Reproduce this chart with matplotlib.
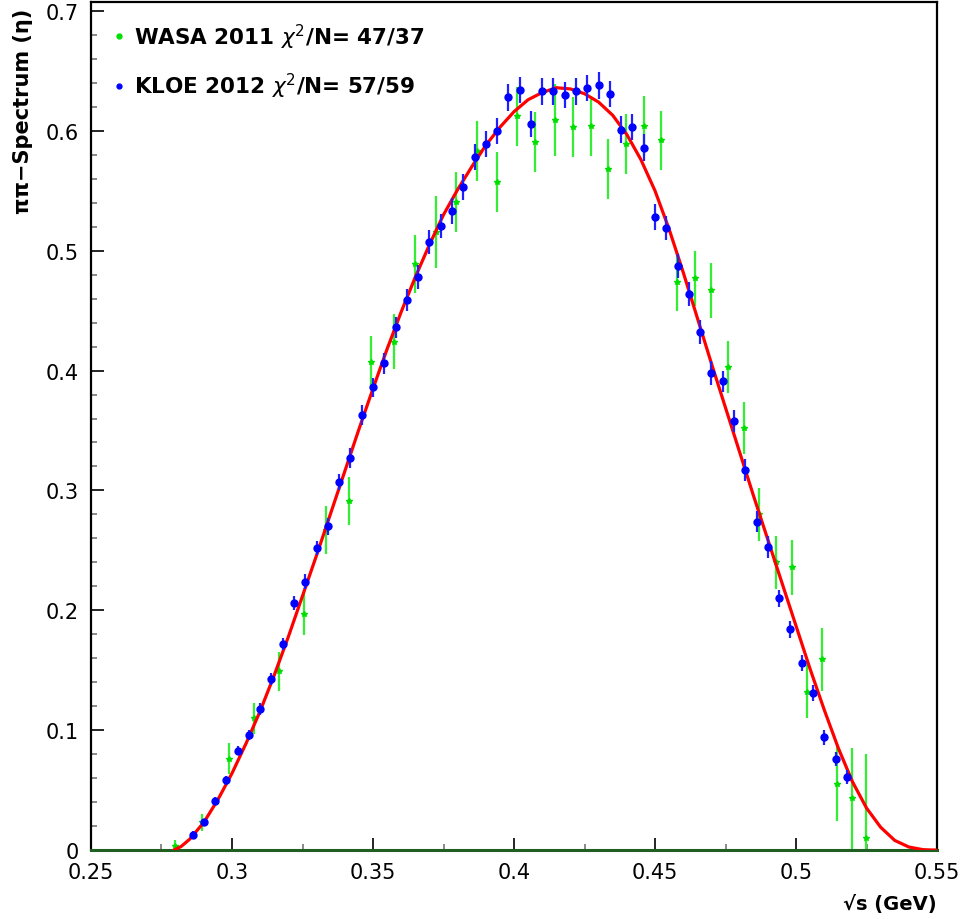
import matplotlib
matplotlib.use('Agg')
import matplotlib.pyplot as plt
from matplotlib.lines import Line2D
from matplotlib.ticker import MultipleLocator, FormatStrFormatter

# KLOE 2012 points
kloe_x = [0.286, 0.290, 0.294, 0.298, 0.302, 0.306, 0.310, 0.314, 0.318, 0.322,
          0.326, 0.330, 0.334, 0.338, 0.342, 0.346, 0.350, 0.354, 0.358, 0.362,
          0.366, 0.370, 0.374, 0.378, 0.382, 0.386, 0.390, 0.394, 0.398, 0.402,
          0.406, 0.410, 0.414, 0.418, 0.422, 0.426, 0.430, 0.434, 0.438, 0.442,
          0.446, 0.450, 0.454, 0.458, 0.462, 0.466, 0.470, 0.474, 0.478, 0.482,
          0.486, 0.490, 0.494, 0.498, 0.502, 0.506, 0.510, 0.514, 0.518]
kloe_y = [0.0125, 0.023, 0.041, 0.058, 0.083, 0.096, 0.118, 0.143, 0.172, 0.206,
          0.224, 0.252, 0.270, 0.307, 0.327, 0.363, 0.386, 0.406, 0.436, 0.459,
          0.478, 0.507, 0.521, 0.533, 0.553, 0.578, 0.589, 0.600, 0.628, 0.634,
          0.606, 0.633, 0.633, 0.630, 0.633, 0.636, 0.638, 0.631, 0.601, 0.603,
          0.586, 0.528, 0.519, 0.487, 0.464, 0.432, 0.398, 0.391, 0.358, 0.317,
          0.274, 0.253, 0.210, 0.184, 0.156, 0.131, 0.094, 0.076, 0.061]
kloe_err = [0.003, 0.003, 0.003, 0.004, 0.004, 0.004, 0.005, 0.005, 0.005, 0.006,
            0.006, 0.006, 0.007, 0.007, 0.008, 0.008, 0.008, 0.009, 0.009, 0.009,
            0.010, 0.010, 0.010, 0.011, 0.011, 0.011, 0.011, 0.011, 0.011, 0.011,
            0.011, 0.011, 0.011, 0.011, 0.011, 0.011, 0.011, 0.011, 0.011, 0.011,
            0.011, 0.011, 0.010, 0.010, 0.010, 0.010, 0.010, 0.009, 0.009, 0.009,
            0.009, 0.009, 0.007, 0.007, 0.007, 0.007, 0.006, 0.006, 0.006]

# WASA 2011 points
wasa_x = [0.2798, 0.2894, 0.2989, 0.3078, 0.3167, 0.3255, 0.3333, 0.3415, 0.3493,
          0.3574, 0.3649, 0.3723, 0.3794, 0.3869, 0.3940, 0.4011, 0.4074, 0.4145,
          0.4209, 0.4273, 0.4333, 0.4397, 0.4461, 0.4521, 0.4578, 0.4642, 0.4699,
          0.4759, 0.4816, 0.4869, 0.4929, 0.4986, 0.5039, 0.5092, 0.5145, 0.5199,
          0.5248]
wasa_y = [0.003, 0.023, 0.076, 0.110, 0.149, 0.197, 0.267, 0.291, 0.407,
          0.424, 0.489, 0.516, 0.541, 0.583, 0.557, 0.612, 0.591, 0.609,
          0.603, 0.604, 0.568, 0.589, 0.604, 0.592, 0.474, 0.477, 0.467,
          0.403, 0.352, 0.280, 0.240, 0.236, 0.132, 0.159, 0.055, 0.043,
          0.010]
wasa_err = [0.005, 0.007, 0.013, 0.013, 0.016, 0.018, 0.020, 0.020, 0.022,
            0.023, 0.024, 0.030, 0.025, 0.025, 0.025, 0.025, 0.025, 0.030,
            0.025, 0.025, 0.025, 0.025, 0.025, 0.025, 0.024, 0.023, 0.023,
            0.022, 0.022, 0.022, 0.022, 0.023, 0.022, 0.026, 0.031, 0.042,
            0.070]

# fit curve
fit_x = [0.2795, 0.282, 0.285, 0.290, 0.295, 0.300, 0.305, 0.310, 0.315, 0.320,
         0.325, 0.330, 0.335, 0.340, 0.345, 0.350, 0.355, 0.360, 0.365, 0.370,
         0.375, 0.380, 0.385, 0.390, 0.395, 0.400, 0.405, 0.410, 0.415, 0.420,
         0.425, 0.430, 0.435, 0.440, 0.445, 0.450, 0.455, 0.460, 0.465, 0.470,
         0.475, 0.480, 0.485, 0.490, 0.495, 0.500, 0.505, 0.510, 0.515, 0.520,
         0.525, 0.530, 0.535, 0.540, 0.545, 0.548, 0.550]
fit_y = [0.000, 0.003, 0.009, 0.023, 0.042, 0.064, 0.089, 0.116, 0.146, 0.178,
         0.212, 0.246, 0.281, 0.316, 0.351, 0.385, 0.418, 0.449, 0.478, 0.505,
         0.530, 0.551, 0.570, 0.588, 0.603, 0.616, 0.626, 0.632, 0.636, 0.635,
         0.631, 0.624, 0.613, 0.597, 0.576, 0.550, 0.518, 0.482, 0.444, 0.406,
         0.369, 0.332, 0.295, 0.259, 0.223, 0.187, 0.151, 0.117, 0.085, 0.057,
         0.035, 0.019, 0.008, 0.0025, 0.0003, 0.000, 0.000]

fig = plt.figure(figsize=(9.68, 9.2), dpi=100)
ax = fig.add_axes([0.0940, 0.0750, 0.8740, 0.9217])

ax.errorbar(wasa_x, wasa_y, yerr=wasa_err, fmt='*', color='#00e000', ecolor='#33ee33',
            markersize=4, elinewidth=1.6, capsize=0, zorder=2)
ax.plot(fit_x, fit_y, color='#ff0000', lw=2.3, zorder=3)
ax.errorbar(kloe_x, kloe_y, yerr=kloe_err, fmt='o', color='#0000ff', ecolor='#2020ff',
            markersize=5, elinewidth=1.6, capsize=0, zorder=4)

ax.set_xlim(0.25, 0.55)
ax.set_ylim(0, 0.7075)

ax.xaxis.set_major_locator(MultipleLocator(0.05))
ax.xaxis.set_minor_locator(MultipleLocator(0.025))
ax.yaxis.set_major_locator(MultipleLocator(0.1))
ax.yaxis.set_minor_locator(MultipleLocator(0.02))
ax.xaxis.set_major_formatter(FormatStrFormatter('%g'))
ax.yaxis.set_major_formatter(FormatStrFormatter('%g'))
ax.tick_params(which='both', direction='in', top=False, right=False, labelsize=15)
ax.tick_params(which='major', length=9, width=1.2)
ax.tick_params(which='minor', length=4.5, width=1.2, color='#777777')
ax.tick_params(axis='x', pad=9)
ax.tick_params(axis='y', pad=9)

for side in ['left', 'right', 'top']:
    ax.spines[side].set_linewidth(1.6)
ax.spines['bottom'].set_linewidth(2.2)
ax.spines['bottom'].set_color('#1f5f22')

ax.set_ylabel('ππ−Spectrum (η)', fontsize=15, fontweight='bold', loc='top', labelpad=9)
ax.yaxis.label.set_y(0.993)
ax.set_xlabel('√s (GeV)', fontsize=14, fontweight='bold', loc='right', labelpad=8)

handles = [Line2D([], [], ls='none', marker='o', color='#00e000', markersize=3.5),
           Line2D([], [], ls='none', marker='o', color='#0000ff', markersize=3.5)]
labels = [r'WASA 2011 $\chi^2$/N= 47/37', r'KLOE 2012 $\chi^2$/N= 57/59']
ax.legend(handles, labels, loc='upper left', bbox_to_anchor=(0.003, 1.0), frameon=False,
          prop={'size': 15.5, 'weight': 'bold'}, handlelength=0.6, handletextpad=0.4,
          labelspacing=0.95, borderaxespad=0.5)

fig.savefig('out.png', dpi=100)
